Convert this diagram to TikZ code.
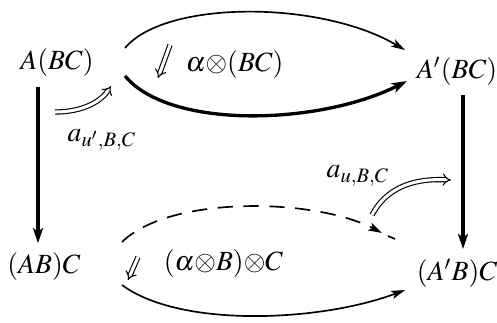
\documentclass[tikz,border=0pt]{standalone}
\usepackage{mathptmx}
\usetikzlibrary{arrows.meta}

\tikzset{
  onecell/.style={line width=0.6pt,-{Stealth[length=5pt,width=3pt,inset=1.2pt]}},
  heavycell/.style={line width=1.2pt,-{Stealth[length=5.5pt,width=3.6pt,inset=1.4pt]}},
  twocell/.style={double,double distance=1.1pt,line width=0.4pt,-{Implies}},
}

\begin{document}
\begin{tikzpicture}[x=0.36pt,y=-0.36pt]
\useasboundingbox (0,0) rectangle (497,322);

% corners
\node (abc)  at (57,63)   {$A(BC)$};
\node (pbc)  at (457,71)  {$A'(BC)$};
\node (abxc) at (44,267)  {$(AB)C$};
\node (pbxc) at (457,273) {$(A'B)C$};

% free ends of the parallel arrows
\coordinate (lcol) at (38,0);
\coordinate (rcol) at (463,0);
\coordinate (t1) at (125,48);   \coordinate (t2) at (405,50);
\coordinate (m1) at (125,76);   \coordinate (m2) at (407,81);
\coordinate (d1) at (122,242);  \coordinate (d2) at (382,233);
\coordinate (d3) at (388,236);  \coordinate (d4) at (395,239);
\coordinate (b1) at (122,285);  \coordinate (b2) at (405,290);

\draw[heavycell] (abc.south -| lcol) -- (abxc.north -| lcol);
\draw[heavycell] (pbc.south -| rcol) -- (pbxc.north -| rcol);

\draw[onecell] (t1) .. controls (165,0) and (320,0) .. (t2);
\draw[heavycell] (m1) .. controls (170,130) and (320,125) .. (m2);
\draw[onecell,dashed,dash pattern=on 5.5pt off 3.8pt] (d1) .. controls (170,195) and (315,198) .. (d2);
\draw[line width=0.6pt] (d3) -- (d4);
\draw[onecell] (b1) .. controls (180,328) and (320,322) .. (b2);

% 2-cells
\coordinate (s1) at (170,45);  \coordinate (s2) at (158,78);
\coordinate (s3) at (138,257); \coordinate (s4) at (128,280);
\draw[twocell] (s1) -- (s2);
\draw[twocell] (s3) -- (s4);
\node[anchor=west] (alpha1) at (176,65)  {$\alpha{\otimes}(BC)$};
\node[anchor=west] (alpha2) at (154,264) {$(\alpha{\otimes}B){\otimes}C$};

% associators
\coordinate (u1) at (55,112);  \coordinate (u2) at (111,86);
\coordinate (v1) at (372,215); \coordinate (v2) at (451,180);
\draw[twocell] (u1) .. controls (85,112) and (102,100) .. (u2);
\draw[twocell] (v1) .. controls (385,190) and (410,178) .. (v2);
\node (au1) at (102,140) {$a_{u',B,C}$};
\node (au2) at (358,176) {$a_{u,B,C}$};

\end{tikzpicture}
\end{document}
